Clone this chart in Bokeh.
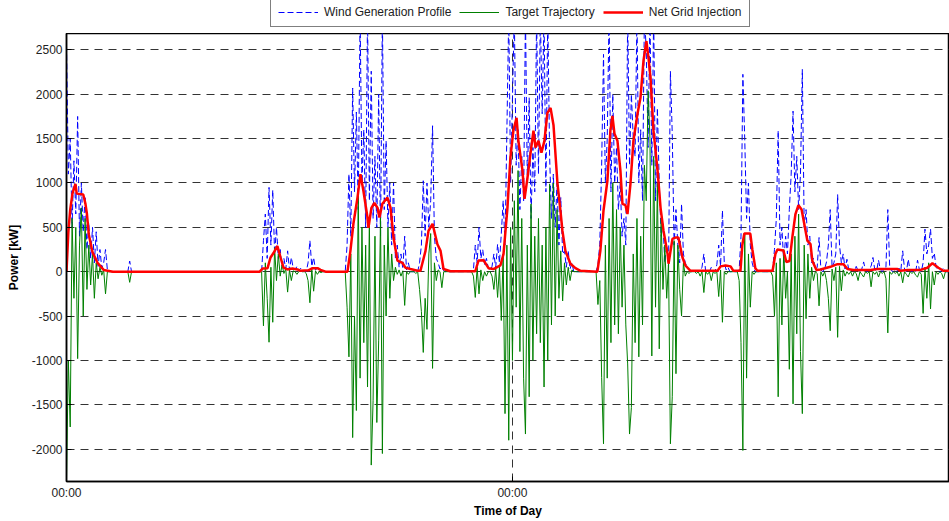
import numpy as np
from bokeh.plotting import figure
from bokeh.layouts import column
from bokeh.models import Range1d, FixedTicker, Legend, LegendItem
from bokeh.embed import file_html
from bokeh.resources import INLINE

# ---------------- data (time in hours, power in kW) ----------------
STEP_H = 0.1
episode_start_h = [0.0, 3.3, 10.5, 15.0, 18.7, 21.6, 28.4, 33.8]

wind_ep1 = [2550, 1100, 1500, 500, 1250, 650, 1750, 400, 1000, 450, 850, 250, 550, 150,
            500, 100, 450, 60, 250, 40, 100, 250, 20, 10, 0, 0, 0, 0]
target_ep1 = [-2350, -1000, -1750, 600, -300, 500, -980, 300, 720, -500, 600, -200, 300, -150,
              200, -300, 100, -80, 50, -40, 20, -250, 0, 0, 0, 0, 0, 0]

wind_ep1b = [0, 120, 0]
target_ep1b = [0, -120, 0]

wind_ep2 = [0, 350, 650, 150, 950, 300, 920, 200, 500, 150, 250, 60, 150, 30, 235, 20, 160, 40,
            20, 60, 10, 40, 0, 10, 0, 100, 350, 60, 160, 20, 40, 10, 20, 0]
target_ep2 = [0, -610, 100, -300, -795, 50, -570, 270, -100, 200, -50, 80, -20, 30, -230, 20,
              -100, 10, 0, -30, 0, 10, 0, 0, -20, -100, -350, 30, -220, 10, -30, 0, -10, 0]

wind_ep3 = [0, 300, 1100, 400, 2070, 900, 1800, 700, 2900, 1000, 1600, 500, 2900, 800, 2260,
            600, 1300, 500, 2000, 400, 2900, 700, 1475, 500, 1000, 300, 1000, 150, 300, 50,
            200, 30, 400, 20, 100, 0, 0]
target_ep3 = [0, -400, -960, 200, -1870, -500, -1565, 910, -1200, 500, -800, 300, -1300, 610,
              -2180, -1450, 400, -1700, -780, 610, -2050, 300, -500, 500, -300, 200, -100, 50,
              -30, 20, -50, 10, -380, 0, -30, 0, 0]

wind_ep4 = [0, 20, 0, 100, 300, 1025, 400, 1000, 500, 800, 1645, 400, 150, 100, 30, 60, 10, 0, 0]
target_ep4 = [0, -20, 0, -200, -450, -910, -300, -650, 200, 430, -1090, 100, -100, 20, 0, -180,
              0, 0, 0]

wind_ep5 = [0, 0, 0, 20, 300, 100, 500, 150, 250, 80, 150, 40, 20, 60, 200, 50, 310, 100, 430,
            800, 300, 1590, 2900, 1000, 1960, 2900, 1200, 1600, 700, 1300, 800, 2900, 1000, 1960,
            600, 1400, 900, 2900, 1100, 2900, 1780, 2900, 900, 2900, 1300, 600, 1100, 500, 1000,
            300, 835, 200, 235, 50, 235, 30, 100, 0, 0, 0]
target_ep5 = [0, 0, 0, -50, -290, 50, -250, 20, -100, 0, -50, 0, 0, -50, -200, 30, -290, 50,
              -550, 200, -1600, 300, -1900, 500, -1000, 800, -400, 1140, -900, 600, -1200, -1830,
              300, -1410, 765, -1000, 400, -700, 600, -800, 300, -1300, 500, -1000, 990, -600,
              1000, -500, 700, -300, 235, -330, 100, -150, 50, -100, 20, 0, 0, 0]

wind_ep6 = [0, 0, 80, 310, 1200, 2450, 1000, 1500, 2900, 900, 2000, 1000, 1400, 700, 1000, 400,
            600, 300, 2900, 1200, 2000, 1500, 1300, 2900, 1000, 1600, 800, 2900, 2500, 1400, 2900,
            1200, 2900, 800, 1845, 1000, 400, 540, 100, 300, 50, 2260, 1550, 300, 700, 300, 100,
            765, 200, 100, 50, 20, 0, 0]
target_ep6 = [0, 0, -370, -100, -1190, -1940, 300, -1200, 600, -800, 1000, -600, 700, -700, 500,
              -400, 300, -600, -1040, -1830, -1530, 200, -800, 600, -960, 400, -600, 1200, 800,
              2040, 1500, -950, 1300, -400, 1000, -870, 600, -200, 300, -300, 100, -1940, -1410,
              350, -1150, 300, -200, -500, 100, -50, 0, -20, 0, 0]

wind_ep7 = [0, 0, 10, 0, 50, 200, 0, 10, 0, 50, 0, 0, 80, 300, 60, 690, 100, 20, 50, 0,
            0, 0, 0, 0, 20, 400, 2225, 1500, 600, 1000, 300, 100, 20, 0,
            0, 0, 0, 0, 0, 0, 0, 0,
            20, 250, 600, 1590, 300, 500, 100, 400, 200, 700, 1100, 1810, 900, 1300, 700, 1100,
            2280, 500, 700, 300, 400, 100, 150, 20, 50, 385, 20, 0, 30, 110, 300, 700, 50, 100,
            200, 870, 300, 100, 200, 30, 140, 20, 0, 30, 0, 60, 10, 0, 30, 110, 10, 0, 40, 60,
            160, 20, 10, 130, 20, 0, 30, 50, 700, 60, 10, 0, 20, 0, 40, 10, 235, 30, 0, 140, 10,
            0, 20, 0, 130, 20, 0, 100, 480, 200, 300, 480, 150, 210, 50, 20, 0, 10, 45, 0, 0, 0]
target_ep7 = [0, -20, 0, -50, 0, -235, 0, -30, 0, -100, 0, -20, 0, -280, 20, -570, 0, -30, 0, 0,
              0, 0, 0, 0, -100, -800, -2015, 430, -1200, 200, -400, 0, -30, 0,
              0, 0, 0, 0, 0, 0, 0, 0,
              -50, -500, 100, -1410, 150, -600, 250, -300, 0, -1100, 200, -1490, 400, -700, 650,
              -900, -1600, 300, -530, 200, -300, 50, -100, 0, -20, -385, 0, -50, 0, -100, -300,
              -665, 30, -100, 50, -740, 60, -215, 20, -50, 0, -30, 0, -50, 0, -20, -100, 0, -30,
              -60, 0, -20, 0, -170, 0, -30, 0, -60, 0, -20, 0, -80, -690, 0, -30, 0, -20, 0, -50,
              0, -125, 0, -30, -60, 0, -20, 0, -40, -60, 0, -30, -470, 50, -300, 100, -420, 0,
              -150, 0, -30, 0, -20, -80, 0, 0, 0]

net_t = [0.0, 0.1, 0.2, 0.32, 0.48, 0.55, 0.9, 1.02, 1.1, 1.2, 1.4, 1.67, 2.0, 2.5,
         10.4, 10.55, 10.82, 10.98, 11.14, 11.35, 11.52, 11.68, 11.89, 12.16, 12.43, 12.59, 13.02,
         13.24, 13.51, 13.67, 13.94,
         15.12, 15.28, 15.44, 15.66, 15.82, 15.98, 16.2, 16.25, 16.41, 16.57, 16.74, 16.84, 17.0,
         17.27, 17.44, 17.6, 17.81, 18.08, 18.24, 18.51, 18.89, 19.05, 19.32, 19.48, 19.7, 19.96,
         20.13, 20.29, 20.66, 22.0, 22.17, 22.44, 22.71, 22.98, 23.35, 23.52, 23.73, 23.89, 24.05,
         24.22, 24.32, 24.54, 24.65, 24.81, 24.97, 25.13, 25.24, 25.4, 25.56, 25.72, 25.88, 26.05,
         26.21, 26.42, 26.58, 26.69, 26.85, 27.12, 27.39, 27.66, 28.57, 28.73, 28.9, 29.11, 29.27,
         29.38, 29.49, 29.65, 29.81, 29.92, 30.08, 30.19, 30.35, 30.51, 30.73, 30.89, 31.05, 31.21,
         31.32, 31.43, 31.59, 31.81, 31.97, 32.13, 32.35, 32.4, 32.61, 32.77, 32.93, 33.15, 33.31,
         33.58, 34.12, 35.04, 35.2, 35.47, 35.74, 35.89, 36.27, 36.37, 36.48, 36.8, 36.91, 37.07,
         37.18, 38.0, 38.15, 38.26, 38.58, 38.74, 38.91, 39.07, 39.23, 39.39, 39.56, 39.72, 39.87,
         40.04, 40.14, 40.36, 40.58, 41.11, 41.49, 41.81, 42.03, 42.35, 43.27, 43.64, 44.18, 44.72,
         44.88, 45.26, 45.96, 46.33, 46.6, 46.92, 47.19, 47.52]
net_kw = [0, 450, 700, 880, 990, 880, 870, 765, 650, 420, 220, 100, 20, 0,
          0, 35, 40, 160, 210, 290, 160, 45, 25, 35, 25, 10, 15,
          40, 40, 20, 0,
          0, 235, 540, 835, 1100, 910, 610, 495, 720, 775, 720, 610, 765,
          835, 720, 385, 125, 100, 45, 30, 10, 10, 235, 460, 540, 310,
          235, 30, 5, 5, 125, 130, 40, 30, 70, 200, 720, 1285, 1590,
          1735, 1475, 1140, 820, 1060, 1330, 1590, 1400, 1475, 1340, 1475, 1790, 1845,
          1650, 1000, 690, 460, 235, 90, 40, 10, 0, 235, 690, 1025, 1590,
          1755, 1555, 1475, 1140, 765, 750, 650, 990, 1475, 1780, 1960, 2375, 2600,
          2410, 2185, 1590, 1140, 720, 460, 200, 90, 370, 385, 385, 160, 70,
          10, 10, 10, 60, 70, 60, 10, 10, 300, 430, 430, 250, 40,
          10, 10, 200, 250, 240, 110, 120, 400, 650, 750, 700, 520, 350,
          310, 120, 20, 25, 55, 85, 85, 30, 20, 20, 30, 30, 30,
          10, 20, 20, 45, 95, 45, 10, 10]

y_ticks = [-2000, -1500, -1000, -500, 0, 500, 1000, 1500, 2000, 2500]
x_ticks_h = [0, 24]
x_tick_labels = ["00:00", "00:00"]
series_names = ["Wind Generation Profile", "Target Trajectory", "Net Grid Injection"]

wind_eps = [wind_ep1, wind_ep1b, wind_ep2, wind_ep3, wind_ep4, wind_ep5, wind_ep6, wind_ep7]
target_eps = [target_ep1, target_ep1b, target_ep2, target_ep3, target_ep4, target_ep5,
              target_ep6, target_ep7]


def build(series_list):
    ts, vs = [], []
    for start, vals in zip(episode_start_h, series_list):
        ts.extend(np.round(start + STEP_H * np.arange(len(vals)), 2).tolist())
        vs.extend(vals)
    return ts, vs


wind_t, wind_kw = build(wind_eps)
target_t, target_kw = build(target_eps)
series_xy = [(wind_t, wind_kw), (target_t, target_kw), (net_t, net_kw)]

FONT = "Liberation Sans"
STYLES = [dict(line_color="#0000ff", line_width=1, line_dash="6 3"),
          dict(line_color="#008000", line_width=1),
          dict(line_color="#ff0000", line_width=2.5)]

X_RANGE = (0, 47.52)
Y_RANGE = (-2365, 2685)

# ---------------- main figure ----------------
p = figure(width=949, height=488, output_backend="svg", toolbar_location=None,
           x_range=Range1d(*X_RANGE), y_range=Range1d(*Y_RANGE),
           min_border_left=66, min_border_right=0, min_border_top=0, min_border_bottom=40)
p.background_fill_color = "white"
p.border_fill_color = "white"
p.outline_line_color = "black"
p.outline_line_width = 1.5

for (xs, ys), st in zip(series_xy, STYLES):
    p.line(xs, ys, **st)

p.xaxis.ticker = FixedTicker(ticks=x_ticks_h)
p.xaxis.major_label_overrides = {t: lab for t, lab in zip(x_ticks_h, x_tick_labels)}
p.yaxis.ticker = FixedTicker(ticks=y_ticks)
p.yaxis.major_label_overrides = {t: str(t) for t in y_ticks}
for ax in (p.xaxis[0], p.yaxis[0]):
    ax.axis_line_color = "black"
    ax.axis_line_width = 1.5
    ax.major_tick_in = 5
    ax.major_tick_out = 0
    ax.minor_tick_line_color = None
    ax.major_label_text_font = FONT
    ax.major_label_text_font_size = "12px"
    ax.major_label_text_color = "#222222"
    ax.axis_label_text_font = FONT
    ax.axis_label_text_font_size = "12px"
    ax.axis_label_text_font_style = "bold"
    ax.axis_label_text_color = "black"
p.xaxis.axis_label = "Time of Day"
p.yaxis.axis_label = "Power [kW]"
p.xaxis.major_label_standoff = 4
p.xaxis.axis_label_standoff = 1
p.yaxis.major_label_standoff = 4
p.yaxis.axis_label_standoff = 8

p.xgrid.ticker = FixedTicker(ticks=x_ticks_h)
p.ygrid.ticker = FixedTicker(ticks=y_ticks)
for g in (p.xgrid[0], p.ygrid[0]):
    g.grid_line_color = "#333333"
    g.grid_line_width = 1
    g.grid_line_dash = "8 6"

# ---------------- legend strip above the plot ----------------
# Same series are drawn here, but the y-range is far above the data so only the legend shows.
lf = figure(width=949, height=33, output_backend="svg", toolbar_location=None,
            x_range=Range1d(*X_RANGE), y_range=Range1d(10000, 10001),
            x_axis_location=None, y_axis_location=None,
            min_border_left=66, min_border_right=0, min_border_top=0, min_border_bottom=0)
lf.grid.visible = False
lf.outline_line_color = None
lf.background_fill_color = "white"
lf.border_fill_color = "white"
legend_renderers = [lf.line(xs, ys, **st) for (xs, ys), st in zip(series_xy, STYLES)]
legend = Legend(items=[LegendItem(label=name, renderers=[r])
                       for name, r in zip(series_names, legend_renderers)],
                orientation="horizontal", location=(204, 6))
legend.border_line_color = "black"
legend.border_line_width = 1
legend.label_text_font = FONT
legend.label_text_font_size = "12px"
legend.label_text_color = "#222222"
legend.glyph_width = 40
legend.glyph_height = 8
legend.label_height = 8
legend.label_standoff = 6
legend.spacing = 8
legend.padding = 7
legend.margin = 0
legend.background_fill_color = "white"
lf.add_layout(legend, "center")

layout = column(lf, p, spacing=0)
open("out.html", "w").write(file_html(layout, INLINE))
